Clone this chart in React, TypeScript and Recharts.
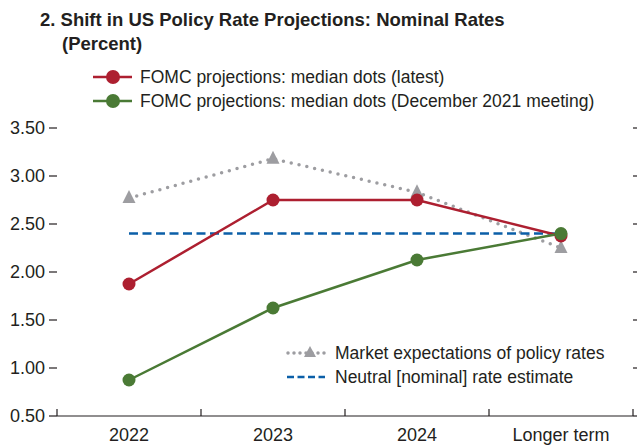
import React from "react";
import { LineChart, Line, XAxis, YAxis } from "recharts";

const periods = ["2022", "2023", "2024", "Longer term"];
const slots = [0.5, 1.5, 2.5, 3.5];
const latestDots = [1.875, 2.75, 2.75, 2.375];
const dec2021Dots = [0.875, 1.625, 2.125, 2.4];
const marketExpectations = [2.77, 3.18, 2.83, 2.25];
const neutralRate = [2.4, 2.4, 2.4, 2.4];
const yTicks = [0.5, 1, 1.5, 2, 2.5, 3, 3.5];
const boundaryTicks = [0, 1, 2, 3, 4];

const FONT = '"Liberation Sans", Arial, sans-serif';
const TEXT = "#231f20";
const RED = "#ad1f30";
const GREEN = "#4a7a35";
const GRAY = "#9d9da1";
const BLUE = "#0b5fa8";

const data = slots.map((x, i) => ({
  x,
  latest: latestDots[i],
  dec2021: dec2021Dots[i],
  market: marketExpectations[i],
  neutral: neutralRate[i],
}));

const Triangle = (props: any) => {
  const { cx, cy } = props;
  if (cx == null || cy == null) return null;
  return (
    <path
      key={`tri-${cx}`}
      d={`M${cx},${cy - 8} L${cx + 6.5},${cy + 5} L${cx - 6.5},${cy + 5} Z`}
      fill={GRAY}
    />
  );
};

function Overlay() {
  const t = { fontFamily: FONT, fill: TEXT, fontSize: 17.5 };
  return (
    <svg
      width={639}
      height={445}
      style={{ position: "absolute", left: 0, top: 0, pointerEvents: "none" }}
    >
      <text x={40} y={26} {...t} fontSize={18.5} fontWeight="bold">
        2. Shift in US Policy Rate Projections: Nominal Rates
      </text>
      <text x={62} y={50} {...t} fontSize={18.5} fontWeight="bold">
        (Percent)
      </text>

      <line x1={93} x2={132} y1={77} y2={77} stroke={RED} strokeWidth={2.5} />
      <circle cx={113} cy={77} r={7} fill={RED} />
      <text x={140} y={83} {...t}>FOMC projections: median dots (latest)</text>

      <line x1={93} x2={132} y1={101} y2={101} stroke={GREEN} strokeWidth={2.5} />
      <circle cx={113} cy={101} r={7} fill={GREEN} />
      <text x={140} y={107} {...t}>FOMC projections: median dots (December 2021 meeting)</text>

      <line
        x1={288}
        x2={330}
        y1={353}
        y2={353}
        stroke={GRAY}
        strokeWidth={3.5}
        strokeDasharray="0 6"
        strokeLinecap="round"
      />
      <path d="M310,346 L316,357 L304,357 Z" fill={GRAY} />
      <text x={335} y={359} {...t}>Market expectations of policy rates</text>

      <line
        x1={287}
        x2={325}
        y1={377}
        y2={377}
        stroke={BLUE}
        strokeWidth={2.5}
        strokeDasharray="7 3.5"
      />
      <text x={335} y={383} {...t}>Neutral [nominal] rate estimate</text>
    </svg>
  );
}

export default function App() {
  return (
    <div style={{ position: "absolute", left: 0, top: 0, width: 639, height: 445, background: "#fff" }}>
      <LineChart
        width={639}
        height={445}
        data={data}
        margin={{ top: 128, right: 0, bottom: 0, left: 0 }}
      >
        <XAxis
          xAxisId="edges"
          dataKey="x"
          type="number"
          domain={[0, 4]}
          ticks={boundaryTicks}
          interval={0}
          height={1}
          tickSize={-7}
          tickFormatter={() => ""}
          stroke={TEXT}
          axisLine={{ stroke: TEXT, strokeWidth: 1.2 }}
          tickLine={{ stroke: TEXT, strokeWidth: 1.2 }}
        />
        <XAxis
          xAxisId="labels"
          dataKey="x"
          type="number"
          domain={[0, 4]}
          ticks={slots}
          interval={0}
          height={28}
          tickSize={0}
          tickMargin={11}
          axisLine={false}
          tickLine={false}
          tickFormatter={(v: number) => periods[slots.indexOf(v)] ?? ""}
          tick={{ fill: TEXT, fontSize: 18, fontFamily: FONT }}
        />
        <YAxis
          yAxisId="left"
          domain={[0.5, 3.5]}
          ticks={yTicks}
          interval={0}
          width={57}
          tickSize={8}
          tickMargin={4}
          axisLine={false}
          tickLine={{ stroke: TEXT, strokeWidth: 1.2 }}
          tickFormatter={(v: number) => v.toFixed(2)}
          tick={{ fill: TEXT, fontSize: 18, fontFamily: FONT }}
        />
        <YAxis
          yAxisId="right"
          orientation="right"
          domain={[0.5, 3.5]}
          ticks={yTicks}
          interval={0}
          width={6}
          tickSize={4}
          axisLine={false}
          tickLine={{ stroke: TEXT, strokeWidth: 1.2 }}
          tick={{ fontSize: 0 }}
          tickFormatter={() => " "}
        />
        <Line
          xAxisId="edges"
          yAxisId="right"
          dataKey="neutral"
          stroke="none"
          dot={false}
          activeDot={false}
          legendType="none"
          isAnimationActive={false}
        />
        <Line
          xAxisId="edges"
          yAxisId="left"
          dataKey="market"
          stroke={GRAY}
          strokeWidth={3.5}
          strokeDasharray="0 8"
          strokeLinecap="round"
          dot={<Triangle />}
          isAnimationActive={false}
        />
        <Line
          xAxisId="edges"
          yAxisId="left"
          dataKey="neutral"
          stroke={BLUE}
          strokeWidth={2.5}
          strokeDasharray="9 4.5"
          dot={false}
          isAnimationActive={false}
        />
        <Line
          xAxisId="edges"
          yAxisId="left"
          dataKey="latest"
          stroke={RED}
          strokeWidth={2.5}
          dot={{ r: 6.5, fill: RED, stroke: RED, strokeWidth: 0 }}
          isAnimationActive={false}
        />
        <Line
          xAxisId="edges"
          yAxisId="left"
          dataKey="dec2021"
          stroke={GREEN}
          strokeWidth={2.5}
          dot={{ r: 6.5, fill: GREEN, stroke: GREEN, strokeWidth: 0 }}
          isAnimationActive={false}
        />
      </LineChart>
      <Overlay />
    </div>
  );
}
